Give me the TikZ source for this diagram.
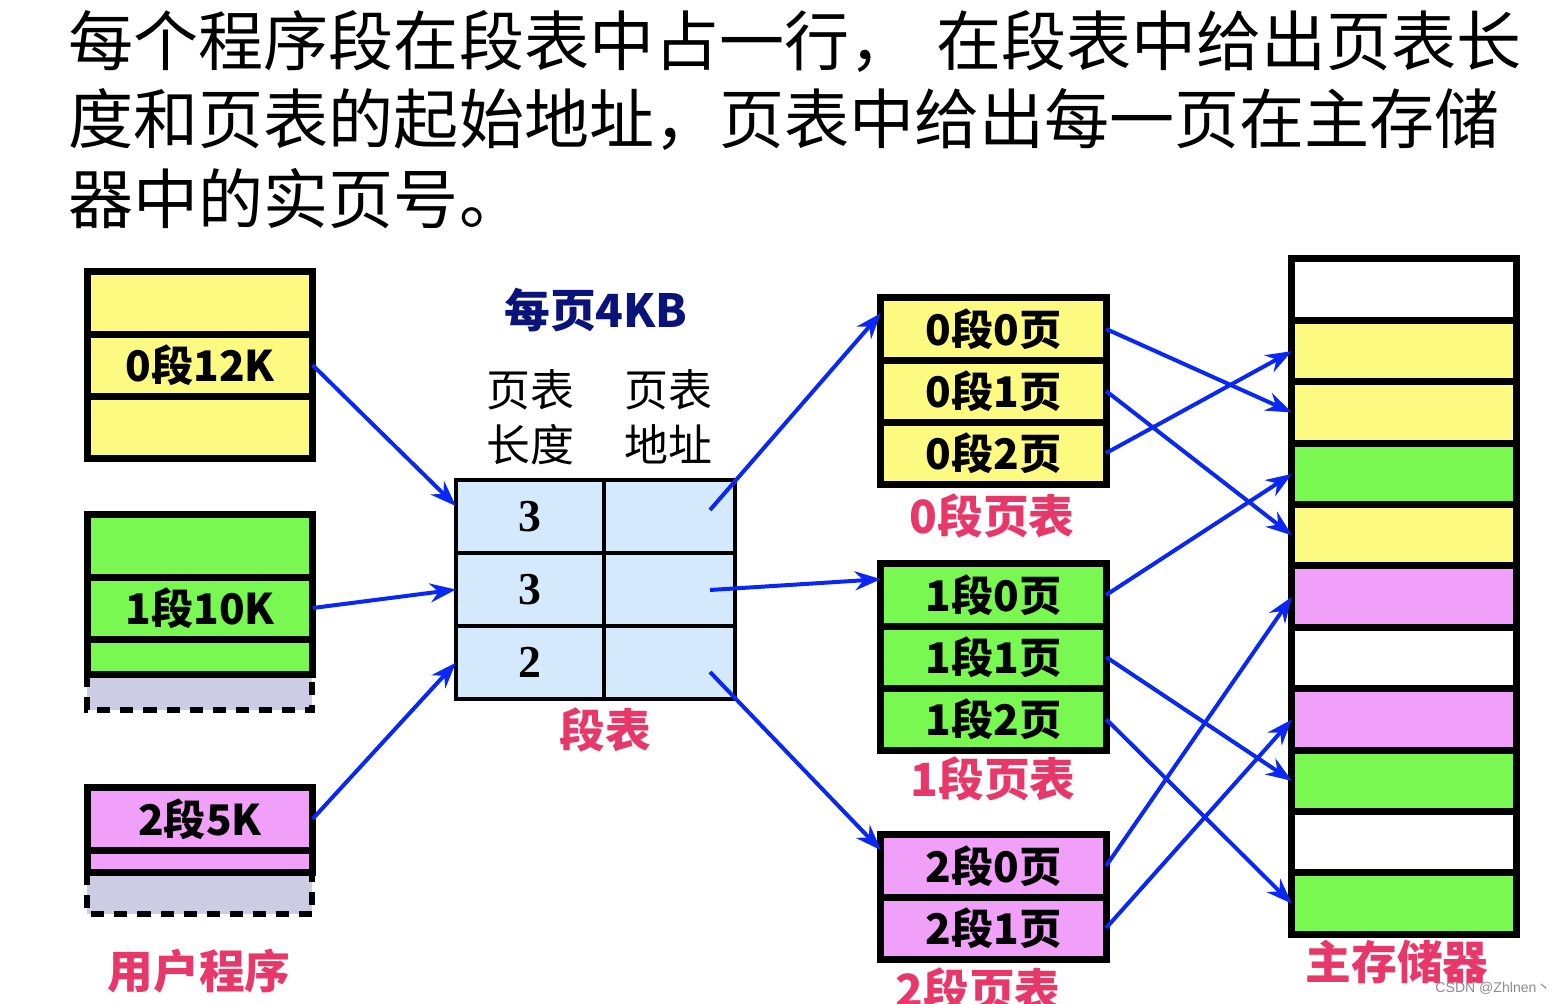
\documentclass[tikz,border=0pt]{standalone}
\usepackage{fontspec}
\setmainfont{Noto Sans CJK SC}
\newfontfamily\numfont{Liberation Serif}
\newfontfamily\markfont{Liberation Sans}
\usetikzlibrary{positioning,arrows.meta,backgrounds}

\definecolor{yel}{RGB}{252,250,128}
\definecolor{grn}{RGB}{120,248,80}
\definecolor{pnk}{RGB}{240,160,248}
\definecolor{sky}{RGB}{212,234,252}
\definecolor{gry}{RGB}{204,204,228}
\definecolor{rose}{RGB}{232,56,106}
\definecolor{navy}{RGB}{10,20,120}
\definecolor{ptrblue}{RGB}{10,40,245}

\begin{document}
\begin{tikzpicture}[x=0.01cm, y=-0.01cm]

    \tikzset{block/.style={%
      draw,%
      rectangle,%
      line width=0.07cm,%
      minimum width=2.25cm,%
      minimum height=0.62cm,%
      inner sep=0pt,%
      outer sep=0pt,%
      font=\fontsize{12pt}{14pt}\selectfont\bfseries}%
    };

    \tikzset{segblock/.style={block, fill=sky, line width=0.04cm, minimum height=0.73cm, font=\fontsize{13pt}{15pt}\selectfont\numfont\bfseries}};

    \tikzset{memblock/.style={block, minimum width=2.24cm, minimum height=0.614cm}};

    \tikzset{spare/.style={fill=gry, line width=0.06cm, dash pattern=on 0.13cm off 0.1cm}};

    \tikzset{caption/.style={text=rose, inner sep=0pt, font=\fontsize{13pt}{15pt}\selectfont\bfseries}};

    \tikzset{ptr/.style={draw=ptrblue, line width=0.04cm, -{Stealth[length=0.26cm, width=0.19cm]}}};

    \useasboundingbox (0,0) rectangle (1564,1004);

    %%%%%%%%%
    % title %
    %%%%%%%%%
    \tikzset{headline/.style={anchor=base west, inner sep=0pt, font=\fontsize{18.5pt}{22pt}\selectfont}};
    \node[headline] (t1) at (68, 66) {每个程序段在段表中占一行，\hspace{0.22cm}在段表中给出页表长};
    \node[headline] (t2) at (68, 144) {度和页表的起始地址，页表中给出每一页在主存储};
    \node[headline] (t3) at (68, 224) {器中的实页号。};

    %%%%%%%%%%%%%%%%
    % user program %
    %%%%%%%%%%%%%%%%
    \node[block, fill=yel] (u0a) at (200, 303) {};
    \node[block, fill=yel, below=0pt of u0a] (u0b) {0段12K};
    \node[block, fill=yel, below=0pt of u0b] (u0c) {};

    \node[block, fill=grn] (u1a) at (200, 546) {};
    \node[block, fill=grn, below=0pt of u1a] (u1b) {1段10K};
    \node[block, fill=grn, below=0pt of u1b, minimum height=0.35cm] (u1c) {};

    \node[block, fill=pnk] (u2a) at (200, 819) {2段5K};
    \node[block, fill=pnk, below=0pt of u2a, minimum height=0.22cm] (u2b) {};

    \begin{pgfonlayer}{background}
      \draw[spare] (u1c.south west) -- ++(0,36) -- ++(225,0) -- ++(0,-36);
      \draw[spare] (u2b.south west) -- ++(0,42) -- ++(225,0) -- ++(0,-42);
    \end{pgfonlayer}

    \node[caption] (uprog) at (199, 971) {用户程序};

    %%%%%%%%%%%%%%%%%
    % segment table %
    %%%%%%%%%%%%%%%%%
    \node[text=navy, font=\fontsize{13pt}{15pt}\selectfont\bfseries] (pgsize) at (596, 310) {每页4KB};
    \node[align=center, font=\fontsize{12.5pt}{15.6pt}\selectfont] (lenhd) at (530, 417) {页表\\长度};
    \node[align=center, font=\fontsize{12.5pt}{15.6pt}\selectfont] (addrhd) at (668, 417) {页表\\地址};

    \node[segblock, minimum width=1.48cm] (sl1) at (530, 516.5) {3};
    \node[segblock, minimum width=1.48cm, below=0pt of sl1] (sl2) {3};
    \node[segblock, minimum width=1.48cm, below=0pt of sl2] (sl3) {2};
    \node[segblock, minimum width=1.31cm, right=0pt of sl1] (sr1) {};
    \node[segblock, minimum width=1.31cm, right=0pt of sl2] (sr2) {};
    \node[segblock, minimum width=1.31cm, right=0pt of sl3] (sr3) {};

    \coordinate (a1) at (710, 510);
    \coordinate (a2) at (710, 590);
    \coordinate (a3) at (710, 672);

    \node[caption] (segcap) at (605, 730) {段表};

    %%%%%%%%%%%%%%%
    % page tables %
    %%%%%%%%%%%%%%%
    \node[block, fill=yel] (p00) at (993.5, 329) {0段0页};
    \node[block, fill=yel, below=0pt of p00] (p01) {0段1页};
    \node[block, fill=yel, below=0pt of p01] (p02) {0段2页};
    \node[caption] (pt0cap) at (992, 516) {0段页表};

    \node[block, fill=grn] (p10) at (993.5, 595) {1段0页};
    \node[block, fill=grn, below=0pt of p10] (p11) {1段1页};
    \node[block, fill=grn, below=0pt of p11] (p12) {1段2页};
    \node[caption] (pt1cap) at (993, 779) {1段页表};

    \node[block, fill=pnk] (p20) at (993.5, 866) {2段0页};
    \node[block, fill=pnk, below=0pt of p20] (p21) {2段1页};
    \node[caption] (pt2cap) at (978, 990) {2段页表};

    %%%%%%%%%%%%%%%
    % main memory %
    %%%%%%%%%%%%%%%
    \foreach \c [count=\i] in {white,yel,yel,grn,yel,pnk,white,pnk,grn,white,grn}
      \node[memblock, fill=\c] (m\i) at (1404, 228.3+61.4*\i) {};

    \node[caption] (memcap) at (1397, 962) {主存储器};

    \node[text=black!45, inner sep=0pt, font=\fontsize{4pt}{5pt}\selectfont] (mark) at (1493, 988) {{\markfont CSDN @Zhlnen}丶};

    %%%%%%%%%%%%
    % pointers %
    %%%%%%%%%%%%
    \draw[ptr] (u0b.east) -- (sl1.172);
    \draw[ptr] (u1b.east) -- (sl2.west);
    \draw[ptr] (u2a.east) -- (sl3.west);

    \draw[ptr] (a1) -- (p00.172);
    \draw[ptr] (a2) -- (p10.172);
    \draw[ptr] (a3) -- (p20.172);

    \draw[ptr] (p00.east) -- (m3.west);
    \draw[ptr] (p01.east) -- (m5.west);
    \draw[ptr] (p02.east) -- (m2.west);
    \draw[ptr] (p10.east) -- (m4.west);
    \draw[ptr] (p11.east) -- (m9.west);
    \draw[ptr] (p12.east) -- (m11.west);
    \draw[ptr] (p20.east) -- (m6.west);
    \draw[ptr] (p21.east) -- (m8.west);

  \end{tikzpicture}
\end{document}
